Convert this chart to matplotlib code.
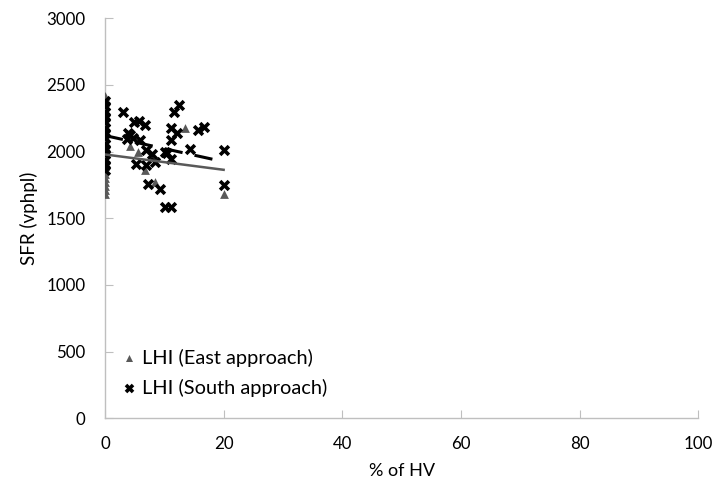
import numpy as np
import matplotlib
matplotlib.use("Agg")
import matplotlib.pyplot as plt

plt.rcParams['font.family'] = ['Lato', 'DejaVu Sans']

# East approach (triangles)
east_x = [0, 0, 0, 0, 0, 0, 0, 0, 0, 0, 0, 0, 0, 0, 0, 0, 0, 0, 0, 0, 0, 0,
          4.2, 5.5, 6.7, 8.4, 13.5, 20.1]
east_y = [1680, 1710, 1740, 1770, 1800, 1830, 1860, 1890, 1920, 1950, 1980, 2010,
          2040, 2080, 2120, 2160, 2200, 2240, 2280, 2320, 2370, 2420,
          2040, 2000, 1860, 1775, 2178, 1685]

# South approach (crosses)
south_x = [0, 0, 0, 0, 0, 0, 0, 0, 0, 0, 0, 0, 0, 0,
           3.1, 4.9, 5.8, 6.7, 3.9, 4.2, 3.7, 4.8, 5.9, 5.3, 7.0, 7.9, 7.0, 8.4,
           7.3, 9.2, 10.1, 11.1, 10.1, 10.4, 11.2, 11.2, 12.2, 11.6, 12.5, 11.2,
           14.3, 15.6, 16.7, 20.1, 20.1]
south_y = [1860, 1900, 1940, 1980, 2020, 2060, 2100, 2140, 2180, 2220, 2260, 2300, 2340, 2380,
           2293, 2222, 2230, 2202, 2142, 2122, 2097, 2105, 2085, 1910, 2010, 1985, 1897, 1922,
           1760, 1718, 1585, 1585, 2000, 1990, 1943, 2178, 2142, 2293, 2352, 2085,
           2022, 2165, 2185, 2010, 1747]

# linear trend lines (intercept, slope)
east_trend = (1978, -5.75)
south_trend = (2120, -9.8)
trend_x = [0, 20]

gray = '#595959'
axis_gray = '#BFBFBF'

fig = plt.figure(figsize=(7.19, 4.92), dpi=100)
ax = fig.add_axes([0.146, 0.150, 0.825, 0.813])

ax.scatter(east_x, east_y, marker='^', s=40, color=gray, linewidths=0,
           label='LHI (East approach)', zorder=3)
ax.scatter(south_x, south_y, marker='x', s=40, color='black', linewidths=2.6,
           label='LHI (South approach)', zorder=4)

tx = np.array(trend_x)
ax.plot(tx, east_trend[0] + east_trend[1] * tx, color=gray, lw=1.8, zorder=5)
ax.plot(tx, south_trend[0] + south_trend[1] * tx, color='black', lw=2.2,
        dashes=(6, 4), zorder=5)

ax.set_xlim(0, 100)
ax.set_ylim(0, 3000)
ax.set_xticks([0, 20, 40, 60, 80, 100])
ax.set_yticks([0, 500, 1000, 1500, 2000, 2500, 3000])

for s in ['top', 'right']:
    ax.spines[s].set_visible(False)
for s in ['left', 'bottom']:
    ax.spines[s].set_color(axis_gray)
    ax.spines[s].set_linewidth(1.0)

ax.tick_params(axis='both', direction='in', length=6, color=axis_gray,
               labelsize=12.2, labelcolor='black')
ax.tick_params(axis='y', pad=14)
ax.tick_params(axis='x', pad=13)

ax.set_xlabel('% of HV', fontsize=13, labelpad=8)
ax.set_ylabel('SFR (vphpl)', fontsize=13.5, labelpad=6)

leg = ax.legend(loc='center left', bbox_to_anchor=(0.030, 0.114), frameon=False,
                fontsize=14.4, handlelength=0.6, handletextpad=0.38,
                labelspacing=0.6, markerscale=0.8, borderaxespad=0, borderpad=0)

fig.savefig('out.png', dpi=100)
